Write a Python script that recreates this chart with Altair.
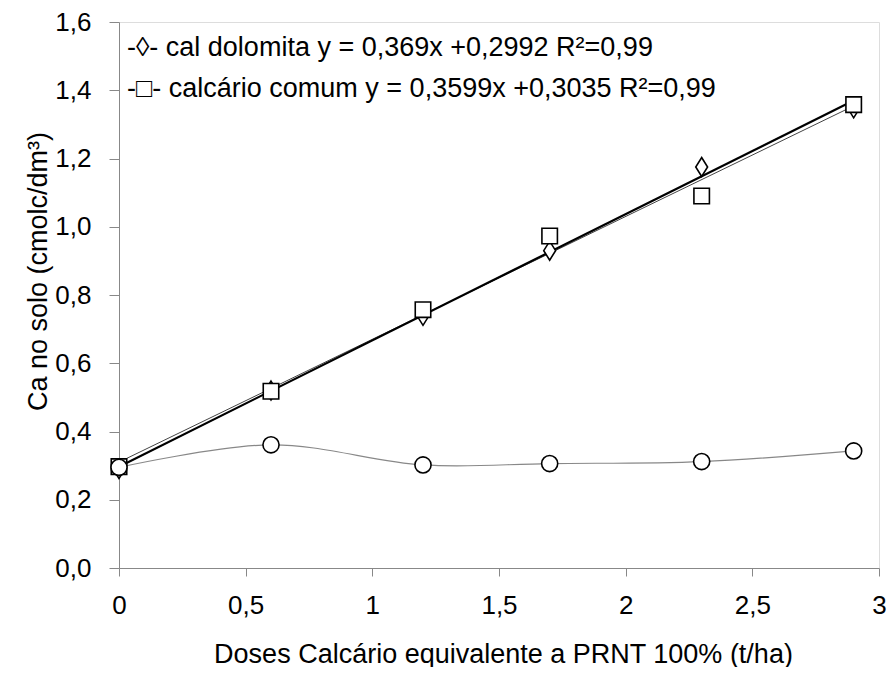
import altair as alt
import pandas as pd

doses = [0, 0.6, 1.2, 1.7, 2.3, 2.9]
cal_dolomita = [0.29, 0.52, 0.739, 0.93, 1.175, 1.347]
calcario_comum = [0.297, 0.518, 0.757, 0.973, 1.09, 1.358]
controle = [0.295, 0.361, 0.302, 0.306, 0.312, 0.343]

legend_lines = [
    "-\u25ca- cal dolomita y = 0,369x +0,2992 R\u00b2=0,99",
    "-\u25a1- calc\u00e1rio comum y = 0,3599x +0,3035 R\u00b2=0,99",
]

rows = []
for name, vals in [("cal dolomita", cal_dolomita), ("calcário comum", calcario_comum), ("controle", controle)]:
    for d, v in zip(doses, vals):
        rows.append({"dose": d, "valor": v, "serie": name})
df = pd.DataFrame(rows)

FONT = "Liberation Sans"
xscale = alt.Scale(domain=[0, 3], nice=False)
yscale = alt.Scale(domain=[0, 1.6], nice=False)

xaxis = alt.Axis(
    values=[0, 0.5, 1, 1.5, 2, 2.5, 3],
    labelExpr="replace(toString(datum.value), '.', ',')",
    labelFlush=False,
    title="Doses Calcário equivalente a PRNT 100% (t/ha)",
    titleX=384, titleY=94, titleBaseline="alphabetic", titleAlign="center",
    titleFontWeight="normal",
    tickSize=8, labelPadding=16, labelFontSize=26, titleFontSize=27,
    grid=False,
)
yaxis = alt.Axis(
    values=[0, 0.2, 0.4, 0.6, 0.8, 1.0, 1.2, 1.4, 1.6],
    labelExpr="replace(format(datum.value, '.1f'), '.', ',')",
    labelFlush=False,
    title="Ca no solo (cmolc/dm\u00b3)",
    titleX=-81, titleY=249, titleAngle=-90, titleBaseline="middle", titleAlign="center",
    titleFontWeight="normal",
    tickSize=10, labelPadding=18, labelFontSize=26, titleFontSize=27,
    grid=False,
)

base = alt.Chart(df)

ctrl_line = base.transform_filter(alt.datum.serie == "controle").mark_line(
    interpolate="catmull-rom", color="#888888", strokeWidth=1.2
).encode(
    x=alt.X("dose:Q", scale=xscale, axis=xaxis),
    y=alt.Y("valor:Q", scale=yscale, axis=yaxis),
)

reg_dolo = base.transform_filter(alt.datum.serie == "cal dolomita").transform_regression(
    "dose", "valor", extent=[0, 2.9]
).mark_line(color="black", strokeWidth=2.2).encode(
    x=alt.X("dose:Q", scale=xscale), y=alt.Y("valor:Q", scale=yscale)
)

reg_comum = base.transform_filter(alt.datum.serie == "calcário comum").transform_regression(
    "dose", "valor", extent=[0, 2.9]
).mark_line(color="#444444", strokeWidth=1).encode(
    x=alt.X("dose:Q", scale=xscale), y=alt.Y("valor:Q", scale=yscale)
)

pts = base.mark_point(filled=True, fill="white", stroke="black", strokeWidth=1.6, opacity=1).encode(
    x=alt.X("dose:Q", scale=xscale),
    y=alt.Y("valor:Q", scale=yscale),
    shape=alt.Shape(
        "serie:N",
        scale=alt.Scale(
            domain=["controle", "cal dolomita", "calcário comum"],
            range=["circle", "M0,-1.2L0.75,0L0,1.2L-0.75,0Z", "square"],
        ),
        legend=None,
    ),
    size=alt.Size(
        "serie:N",
        scale=alt.Scale(domain=["controle", "cal dolomita", "calcário comum"], range=[260, 240, 320]),
        legend=None,
    ),
)

leg1 = alt.Chart(pd.DataFrame({"txt": [legend_lines[0]]})).mark_text(
    align="left", baseline="middle", fontSize=27, font=FONT, color="black"
).encode(x=alt.value(8), y=alt.value(26), text="txt:N")
leg2 = alt.Chart(pd.DataFrame({"txt": [legend_lines[1]]})).mark_text(
    align="left", baseline="middle", fontSize=27, font=FONT, color="black"
).encode(x=alt.value(8), y=alt.value(67), text="txt:N")

chart = alt.layer(ctrl_line, reg_comum, reg_dolo, pts, leg1, leg2).properties(
    width=760, height=546,
    autosize=alt.AutoSizeParams(type="none"),
    padding={"left": 111, "top": 14, "right": 8, "bottom": 99},
).configure_view(stroke=None).configure_axis(
    domainColor="black", tickColor="black", labelColor="black", titleColor="black",
    labelFont=FONT, titleFont=FONT, domainWidth=1.5, tickWidth=1.5,
).configure(background="white")

chart.save("out.html", embed_options={"renderer": "svg", "actions": False})
